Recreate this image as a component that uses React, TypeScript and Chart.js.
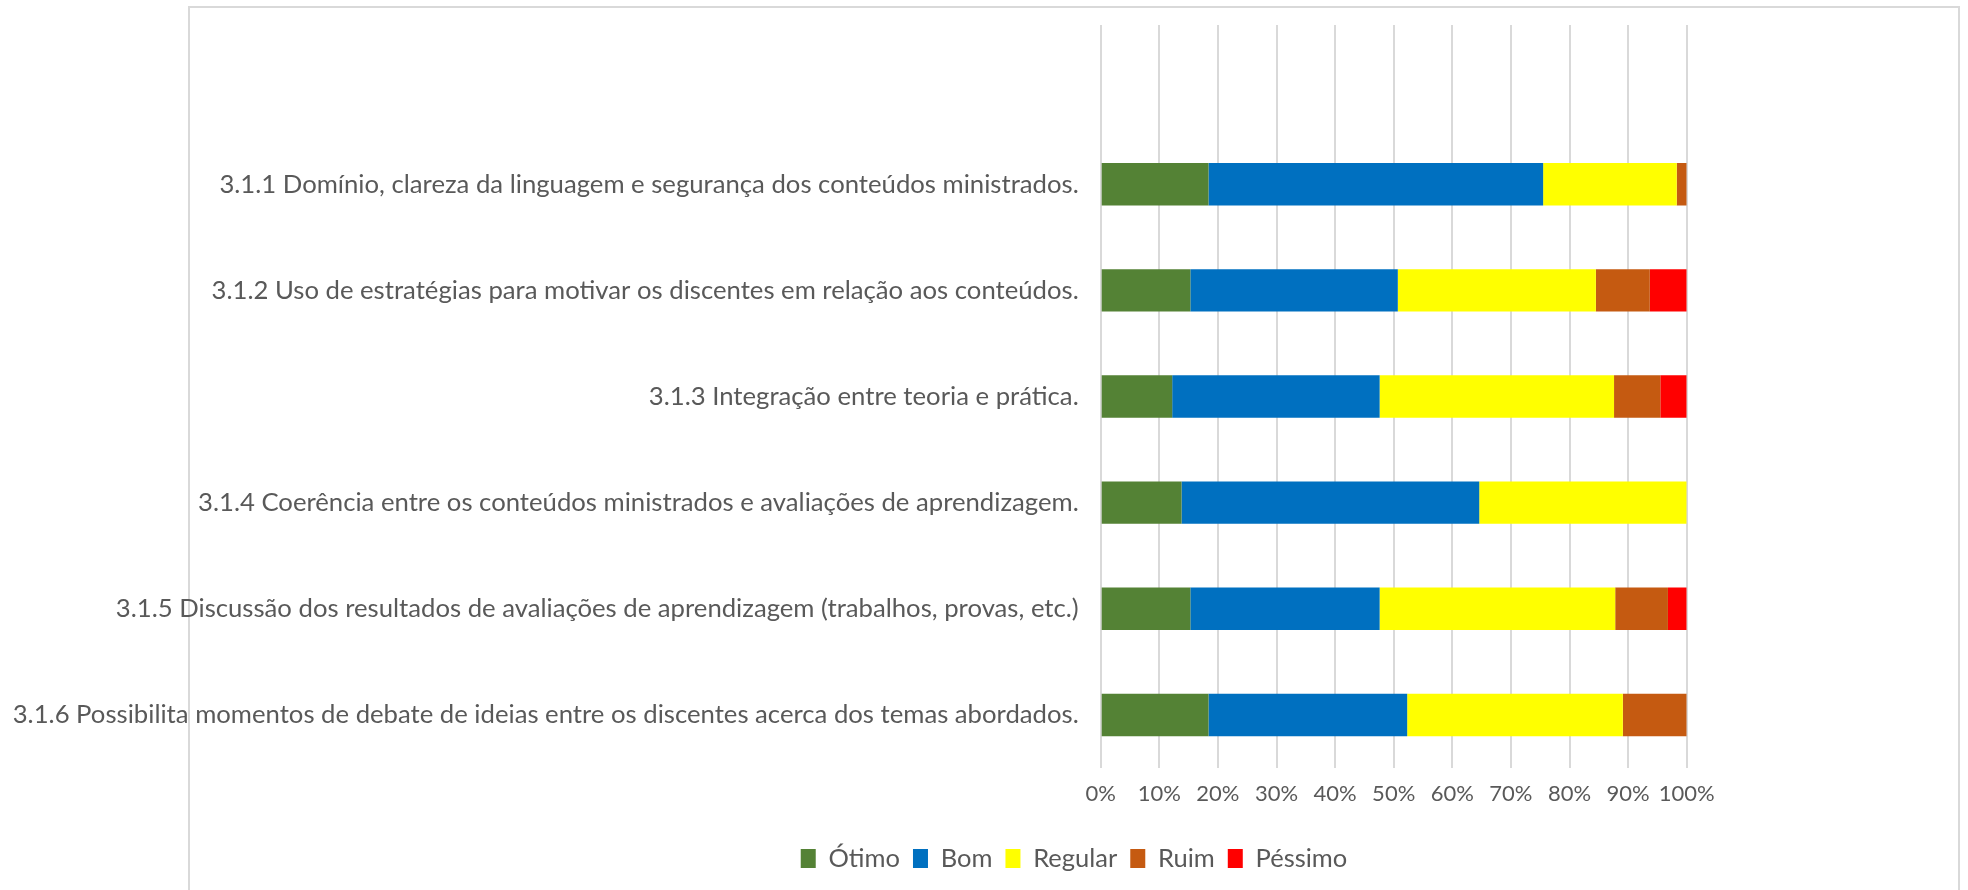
import React, { useEffect, useRef } from 'react';
import { Chart, registerables } from 'chart.js';
Chart.register(...registerables);

const categories = [
  '',
  '3.1.1 Domínio, clareza da linguagem e segurança dos conteúdos ministrados.',
  '3.1.2 Uso de estratégias para motivar os discentes em relação aos conteúdos.',
  '3.1.3 Integração entre teoria e prática.',
  '3.1.4 Coerência entre os conteúdos ministrados e avaliações de aprendizagem.',
  '3.1.5 Discussão dos resultados de avaliações de aprendizagem (trabalhos, provas, etc.)',
  '3.1.6 Possibilita momentos de debate de ideias entre os discentes acerca dos temas abordados.',
];
const seriesNames = ['Ótimo', 'Bom', 'Regular', 'Ruim', 'Péssimo'];
const otimo = [null, 18.4, 15.3, 12.2, 13.8, 15.3, 18.4];
const bom = [null, 57.1, 35.4, 35.4, 50.8, 32.3, 33.9];
const regular = [null, 22.8, 33.8, 40.0, 35.4, 40.2, 36.8];
const ruim = [null, 1.7, 9.2, 7.9, 0, 9.0, 10.9];
const pessimo = [null, 0, 6.3, 4.5, 0, 3.2, 0];
const xTicks = [0, 10, 20, 30, 40, 50, 60, 70, 80, 90, 100];

const FONT = 'Lato';
const TEXT = '#595959';
const CANVAS_W = 2148;
const CANVAS_H = 890;

export default function App() {
  const ref = useRef<HTMLCanvasElement>(null);
  useEffect(() => {
    const framePlugin = {
      id: 'frame',
      beforeDraw(chart: any) {
        const ctx = chart.ctx;
        ctx.save();
        ctx.fillStyle = '#ffffff';
        ctx.fillRect(0, 0, chart.width, chart.height);
        ctx.strokeStyle = '#d9d9d9';
        ctx.lineWidth = 2;
        ctx.strokeRect(189, 7, 1770, 950);
        ctx.restore();
      },
    };
    const colors = ['#548235', '#0070C0', '#FFFF00', '#C55A11', '#FF0000'];
    const series = [otimo, bom, regular, ruim, pessimo];
    const chart = new Chart(ref.current!, {
      type: 'bar',
      data: {
        labels: categories,
        datasets: series.map((s, i) => ({
          label: seriesNames[i],
          data: s,
          backgroundColor: colors[i],
          borderWidth: 0,
          barPercentage: 0.4,
          categoryPercentage: 1,
        })),
      },
      options: {
        indexAxis: 'y',
        animation: false,
        responsive: false,
        layout: { padding: { left: 0, right: 0, top: 25, bottom: 8.75 } },
        scales: {
          x: {
            stacked: true,
            min: 0,
            max: 100,
            afterBuildTicks(s: any) { s.ticks = xTicks.map((v) => ({ value: v })); },
            grid: { color: '#d9d9d9', lineWidth: 2, drawTicks: false },
            border: { display: false },
            ticks: {
              color: TEXT,
              font: { family: FONT, size: 22 },
              padding: 12.3,
              maxRotation: 0,
              minRotation: 0,
              autoSkip: false,
              callback: (v: any) => v + '%',
            },
            afterFit(s: any) { s.height = 64.75; },
          },
          y: {
            stacked: true,
            grid: { display: false, drawTicks: false },
            border: { display: false },
            ticks: { color: TEXT, font: { family: FONT, size: 25.7 }, padding: 22, autoSkip: false },
            afterFit(s: any) { s.width = 1100.7; s.paddingTop = 0; s.paddingBottom = 0; },
          },
          yRight: {
            type: 'category',
            position: 'right',
            display: true,
            grid: { display: false, drawTicks: false },
            border: { display: false },
            ticks: { display: false },
            afterFit(s: any) { s.width = CANVAS_W - 1686.7; s.paddingTop = 0; s.paddingBottom = 0; },
          },
        },
        plugins: {
          legend: {
            position: 'bottom',
            labels: {
              color: TEXT,
              font: { family: FONT, size: 25.5 },
              boxWidth: 15,
              boxHeight: 19,
              padding: 13,
            },
          },
          tooltip: { enabled: false },
        },
      },
      plugins: [framePlugin],
    });
    return () => chart.destroy();
  }, []);
  return (
    <div style={{ position: 'fixed', left: 0, top: 0, width: 1968, height: 890, overflow: 'hidden', background: '#fff' }}>
      <canvas ref={ref} width={CANVAS_W} height={CANVAS_H} style={{ display: 'block' }} />
    </div>
  );
}
